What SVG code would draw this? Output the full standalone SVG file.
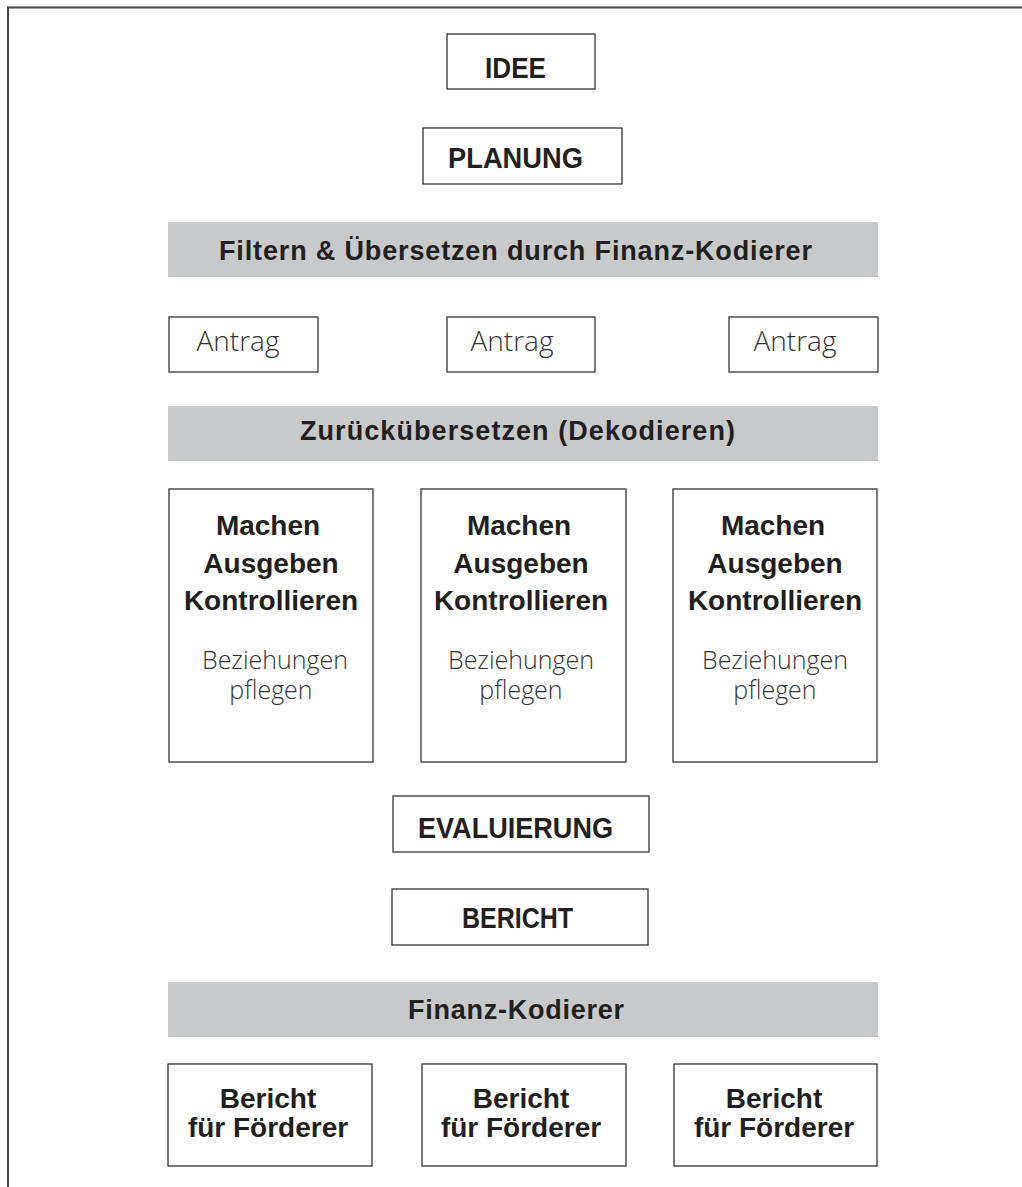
<svg xmlns="http://www.w3.org/2000/svg" width="1022" height="1187" viewBox="0 0 1022 1187">
<style>
.box{fill:#fff;stroke:#333;stroke-width:1.3}
.bar{fill:#c8c9cb}
.b{font-family:"Liberation Sans","Noto Sans",sans-serif;font-weight:bold;fill:#231f20;text-anchor:middle}
.l{font-family:"Open Sans","Liberation Sans",sans-serif;font-weight:300;fill:#333;text-anchor:middle}
</style>
<rect width="1022" height="1187" fill="#fff"/>
<path d="M8,1187 V7.5 H1022" fill="none" stroke="#444" stroke-width="2"/>
<g id="connectors"></g>
<g id="idee"><rect class="box" x="447" y="34" width="148" height="55"/><text class="b" x="515.5" y="77.5" font-size="29" textLength="61" lengthAdjust="spacingAndGlyphs">IDEE</text></g>
<g id="planung"><rect class="box" x="423" y="128" width="199" height="56"/><text class="b" x="515.5" y="167.5" font-size="29" textLength="135" lengthAdjust="spacingAndGlyphs">PLANUNG</text></g>
<g id="filter"><rect class="bar" x="168" y="222" width="710" height="55"/><text class="b" x="515.5" y="259.5" font-size="27" textLength="593">Filtern &amp; Übersetzen durch Finanz-Kodierer</text></g>
<g id="antrag1"><rect class="box" x="169" y="317" width="149" height="55"/><text class="l" x="238" y="351" font-size="28">Antrag</text></g>
<g id="antrag2"><rect class="box" x="447" y="317" width="148" height="55"/><text class="l" x="512" y="351" font-size="28">Antrag</text></g>
<g id="antrag3"><rect class="box" x="729" y="317" width="149" height="55"/><text class="l" x="795" y="351" font-size="28">Antrag</text></g>
<g id="dekodieren"><rect class="bar" x="168" y="406" width="710" height="55"/><text class="b" x="517.5" y="440" font-size="27" textLength="435">Zurückübersetzen (Dekodieren)</text></g>
<g id="machen1"><rect class="box" x="169" y="489" width="204" height="273"/>
<text class="b" font-size="28"><tspan x="268" y="535">Machen</tspan><tspan x="271" y="573">Ausgeben</tspan><tspan x="271" y="610">Kontrollieren</tspan></text>
<text class="l" font-size="25"><tspan x="275" y="669">Beziehungen</tspan><tspan x="271" y="699">pflegen</tspan></text></g>
<g id="machen2"><rect class="box" x="421" y="489" width="205" height="273"/>
<text class="b" font-size="28"><tspan x="519" y="535">Machen</tspan><tspan x="521" y="573">Ausgeben</tspan><tspan x="521" y="610">Kontrollieren</tspan></text>
<text class="l" font-size="25"><tspan x="521" y="669">Beziehungen</tspan><tspan x="521" y="699">pflegen</tspan></text></g>
<g id="machen3"><rect class="box" x="673" y="489" width="204" height="273"/>
<text class="b" font-size="28"><tspan x="773" y="535">Machen</tspan><tspan x="775" y="573">Ausgeben</tspan><tspan x="775" y="610">Kontrollieren</tspan></text>
<text class="l" font-size="25"><tspan x="775" y="669">Beziehungen</tspan><tspan x="775" y="699">pflegen</tspan></text></g>
<g id="evaluierung"><rect class="box" x="393" y="796" width="256" height="56"/><text class="b" x="515.5" y="838" font-size="29" textLength="195" lengthAdjust="spacingAndGlyphs">EVALUIERUNG</text></g>
<g id="bericht"><rect class="box" x="392" y="889" width="256" height="56"/><text class="b" x="517.5" y="928" font-size="29" textLength="111" lengthAdjust="spacingAndGlyphs">BERICHT</text></g>
<g id="finanz"><rect class="bar" x="168" y="982" width="710" height="55"/><text class="b" x="516" y="1019" font-size="27" textLength="216">Finanz-Kodierer</text></g>
<g id="foerderer1"><rect class="box" x="168" y="1064" width="204" height="102"/><text class="b" font-size="28"><tspan x="268" y="1108">Bericht</tspan><tspan x="268" y="1137">für Förderer</tspan></text></g>
<g id="foerderer2"><rect class="box" x="422" y="1064" width="204" height="102"/><text class="b" font-size="28"><tspan x="521" y="1108">Bericht</tspan><tspan x="521" y="1137">für Förderer</tspan></text></g>
<g id="foerderer3"><rect class="box" x="674" y="1064" width="203" height="102"/><text class="b" font-size="28"><tspan x="774" y="1108">Bericht</tspan><tspan x="774" y="1137">für Förderer</tspan></text></g>
</svg>
